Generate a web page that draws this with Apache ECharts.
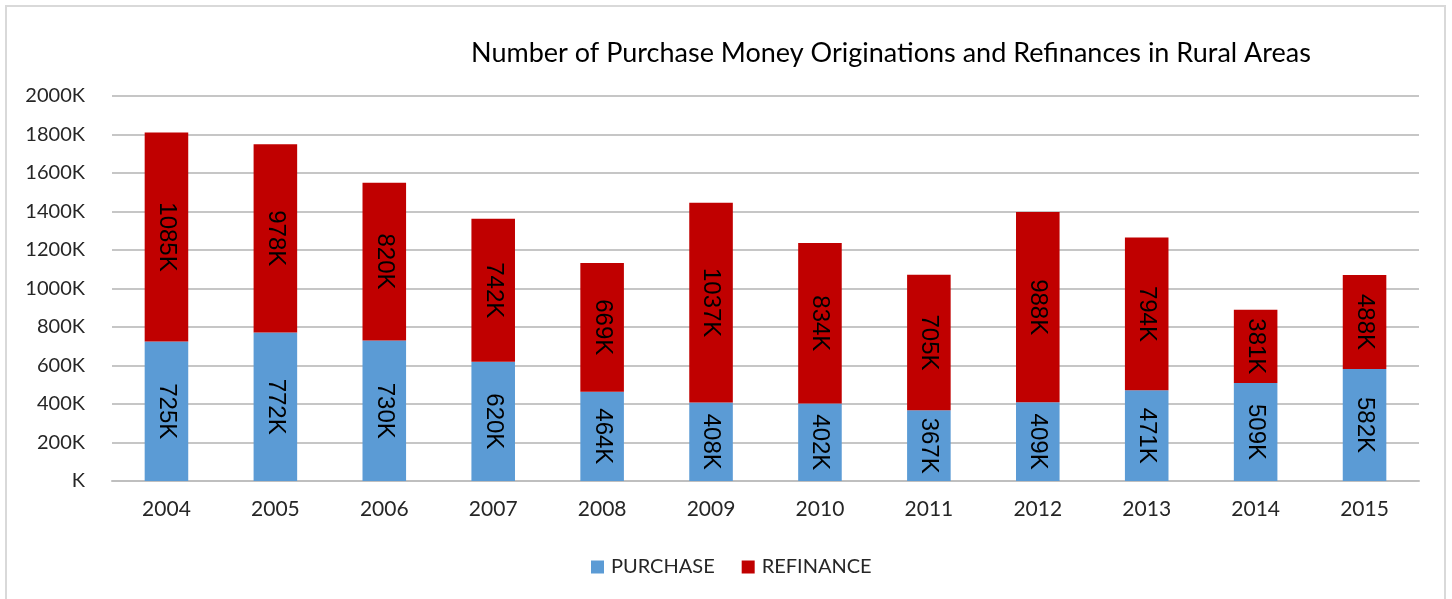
<!DOCTYPE html>
<html>
<head>
<meta charset="utf-8">
<title>Rural originations</title>
<script src="https://cdn.jsdelivr.net/npm/echarts@6/dist/echarts.min.js"></script>
<style>
    html, body { margin: 0; padding: 0; background: #fff; }
    #chart { width: 1452px; height: 599px; }
</style>
</head>
<body>
<div id="chart"></div>
<script>
var years = ["2004", "2005", "2006", "2007", "2008", "2009", "2010", "2011", "2012", "2013", "2014", "2015"];
// values in thousands
var purchase = [725, 772, 730, 620, 464, 408, 402, 367, 409, 471, 509, 582];
var refinance = [1085, 978, 820, 742, 669, 1037, 834, 705, 988, 794, 381, 488];
var yTicks = { min: 0, max: 2000, interval: 200 };

var font = "Lato, 'Open Sans', sans-serif";

function barLabel() {
    return {
        show: true,
        position: "inside",
        rotate: -90,
        color: "#000",
        fontFamily: "'Liberation Sans', Arial, sans-serif",
        fontSize: 24,
        formatter: function(p) {
            return p.value + "K";
        }
    };
}

var chart = echarts.init(document.getElementById("chart"));
chart.setOption({
    animation: false,
    backgroundColor: "#fff",
    graphic: [{
        type: "rect",
        shape: { x: 6, y: 6, width: 1439, height: 600 },
        style: { fill: "none", stroke: "#d9d9d9", lineWidth: 2 }
    }],
    title: {
        text: "Number of Purchase Money Originations and Refinances in Rural Areas",
        left: 886,
        textAlign: "center",
        top: 35,
        textStyle: { fontFamily: font, fontSize: 27, fontWeight: "normal", color: "#000" }
    },
    legend: {
        bottom: 17,
        left: 586,
        itemWidth: 13,
        itemHeight: 13,
        itemGap: 27,
        icon: "rect",
        textStyle: { fontFamily: font, fontSize: 20, color: "#262626", padding: [0, 0, 0, 2] },
        data: ["PURCHASE", "REFINANCE"]
    },
    grid: { left: 112, right: 33, top: 96, bottom: 118 },
    xAxis: {
        type: "category",
        data: years,
        axisLine: { lineStyle: { color: "#bfbfbf", width: 2 } },
        axisTick: { length: 8, lineStyle: { color: "#bfbfbf", width: 2 } },
        axisLabel: { margin: 18, fontFamily: font, fontSize: 21, color: "#262626" }
    },
    yAxis: {
        type: "value",
        min: yTicks.min,
        max: yTicks.max,
        interval: yTicks.interval,
        axisLine: { show: false },
        axisTick: { show: false },
        splitLine: { lineStyle: { color: "#c6c6c6", width: 2 } },
        axisLabel: {
            margin: 27,
            fontFamily: font,
            fontSize: 20,
            color: "#262626",
            formatter: function(v) {
                return (v ? v : "") + "K";
            }
        }
    },
    series: [{
        name: "PURCHASE",
        type: "bar",
        stack: "total",
        barWidth: "40%",
        itemStyle: { color: "#5b9bd5" },
        label: barLabel(),
        data: purchase
    }, {
        name: "REFINANCE",
        type: "bar",
        stack: "total",
        barWidth: "40%",
        itemStyle: { color: "#c00000" },
        label: barLabel(),
        data: refinance
    }]
});
</script>
</body>
</html>
